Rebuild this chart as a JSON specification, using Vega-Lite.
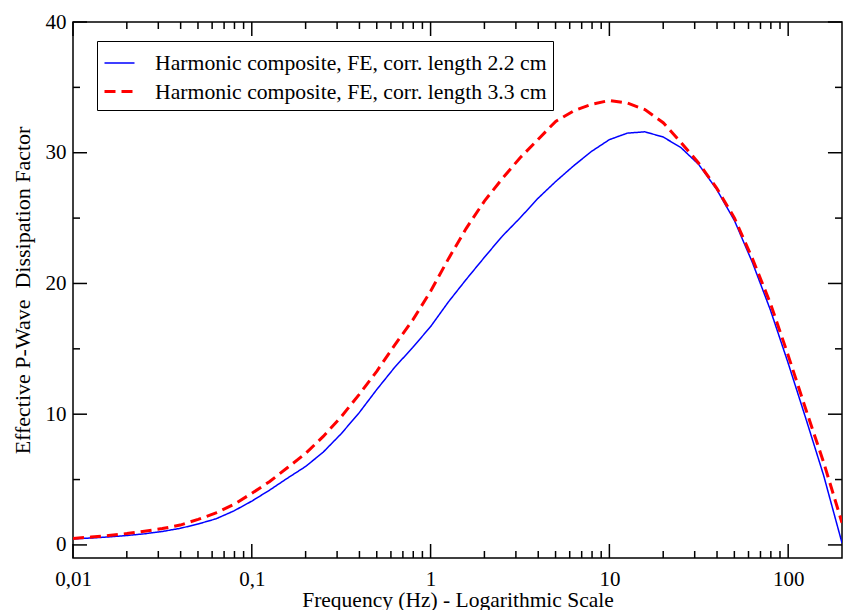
{
  "$schema": "https://vega.github.io/schema/vega-lite/v6.json",
  "width": 769,
  "height": 536,
  "autosize": {"type": "none"},
  "padding": {"left": 73, "top": 22, "right": 5, "bottom": 52},
  "background": "white",
  "data": {
    "values": [
      {"f": 0.01, "a": 0.46, "b": 0.5},
      {"f": 0.0126, "a": 0.53, "b": 0.6},
      {"f": 0.0158, "a": 0.61, "b": 0.72},
      {"f": 0.02, "a": 0.72, "b": 0.87},
      {"f": 0.0251, "a": 0.85, "b": 1.05},
      {"f": 0.0316, "a": 1.03, "b": 1.25},
      {"f": 0.0398, "a": 1.27, "b": 1.52},
      {"f": 0.0501, "a": 1.6, "b": 1.95},
      {"f": 0.0631, "a": 2.0, "b": 2.45},
      {"f": 0.0794, "a": 2.6, "b": 3.1},
      {"f": 0.1, "a": 3.35, "b": 3.95},
      {"f": 0.126, "a": 4.2, "b": 4.85},
      {"f": 0.158, "a": 5.1, "b": 5.9},
      {"f": 0.2, "a": 6.0, "b": 7.0},
      {"f": 0.251, "a": 7.1, "b": 8.3},
      {"f": 0.316, "a": 8.5, "b": 9.8},
      {"f": 0.398, "a": 10.1, "b": 11.5},
      {"f": 0.501, "a": 11.9, "b": 13.3},
      {"f": 0.631, "a": 13.6, "b": 15.3},
      {"f": 0.794, "a": 15.1, "b": 17.2},
      {"f": 1, "a": 16.7, "b": 19.4},
      {"f": 1.26, "a": 18.6, "b": 21.9},
      {"f": 1.58, "a": 20.3, "b": 24.2},
      {"f": 2, "a": 22.0, "b": 26.3},
      {"f": 2.51, "a": 23.6, "b": 28.0},
      {"f": 3.16, "a": 25.0, "b": 29.6},
      {"f": 3.98, "a": 26.5, "b": 31.0},
      {"f": 5.01, "a": 27.8, "b": 32.4},
      {"f": 6.31, "a": 29.0, "b": 33.2},
      {"f": 7.94, "a": 30.1, "b": 33.7},
      {"f": 10, "a": 31.0, "b": 34.0},
      {"f": 12.6, "a": 31.5, "b": 33.8},
      {"f": 15.8, "a": 31.6, "b": 33.3},
      {"f": 20, "a": 31.2, "b": 32.3},
      {"f": 25.1, "a": 30.4, "b": 30.8},
      {"f": 31.6, "a": 29.1, "b": 29.2},
      {"f": 39.8, "a": 27.2, "b": 27.3},
      {"f": 50.1, "a": 24.8, "b": 25.0},
      {"f": 63.1, "a": 21.6, "b": 21.9},
      {"f": 79.4, "a": 18.0, "b": 18.5},
      {"f": 100, "a": 13.9, "b": 14.5},
      {"f": 126, "a": 9.6, "b": 10.3},
      {"f": 158, "a": 5.3, "b": 6.3},
      {"f": 200, "a": 0.15, "b": 1.7}
    ]
  },
  "layer": [
    {
      "transform": [{"fold": ["a", "b"], "as": ["series", "q"]}, {"filter": "datum.series == 'a'"}],
      "mark": {"type": "line", "interpolate": "linear", "clip": true},
      "encoding": {
        "x": {
          "field": "f", "type": "quantitative",
          "scale": {"type": "log", "domain": [0.01, 200], "nice": false},
          "axis": {
            "orient": "bottom",
            "ticks": false,
            "domain": false,
            "values": [0.01, 0.1, 1, 10, 100],
            "labelExpr": "replace(format(datum.value, '~g'), '.', ',')",
            "labelPadding": 10,
            "title": "Frequency (Hz) - Logarithmic Scale",
            "titleFontSize": 21.5,
            "titleY": 42,
            "titleBaseline": "middle"
          }
        },
        "y": {
          "field": "q", "type": "quantitative",
          "scale": {"domain": [-1, 40], "nice": false, "zero": false},
          "axis": {
            "orient": "left",
            "ticks": false,
            "domain": false,
            "values": [0, 10, 20, 30, 40],
            "labelPadding": 7,
            "title": "Effective P-Wave\u00a0 Dissipation Factor",
            "titleFontSize": 22,
            "titleX": -51,
            "titleY": 268,
            "titleBaseline": "middle",
            "titleAlign": "center",
            "titleAngle": -90
          }
        },
        "color": {
          "field": "series", "type": "nominal",
          "scale": {"domain": ["a", "b"], "range": ["#0000ff", "#ff0000"]},
          "legend": {"title": null, "orient": "none", "legendX": 24, "legendY": 19, "labelExpr": "datum.label == 'a' ? 'Harmonic composite, FE, corr. length 2.2 cm' : 'Harmonic composite, FE, corr. length 3.3 cm'"}
        },
        "strokeDash": {
          "field": "series", "type": "nominal",
          "scale": {"domain": ["a", "b"], "range": [[1, 0], [11, 6]]},
          "legend": {"title": null, "orient": "none", "legendX": 24, "legendY": 19, "labelExpr": "datum.label == 'a' ? 'Harmonic composite, FE, corr. length 2.2 cm' : 'Harmonic composite, FE, corr. length 3.3 cm'"}
        },
        "strokeWidth": {
          "field": "series", "type": "nominal",
          "scale": {"domain": ["a", "b"], "range": [1.5, 3]},
          "legend": {"title": null, "orient": "none", "legendX": 24, "legendY": 19, "labelExpr": "datum.label == 'a' ? 'Harmonic composite, FE, corr. length 2.2 cm' : 'Harmonic composite, FE, corr. length 3.3 cm'"}
        }
      }
    },
    {
      "transform": [{"fold": ["a", "b"], "as": ["series", "q"]}, {"filter": "datum.series == 'b'"}],
      "mark": {"type": "line", "interpolate": "linear", "clip": true, "strokeCap": "butt"},
      "encoding": {
        "x": {"field": "f", "type": "quantitative", "scale": {"type": "log", "domain": [0.01, 200], "nice": false}, "axis": null},
        "y": {"field": "q", "type": "quantitative", "scale": {"domain": [-1, 40], "nice": false, "zero": false}, "axis": null},
        "color": {
          "field": "series", "type": "nominal",
          "scale": {"domain": ["a", "b"], "range": ["#0000ff", "#ff0000"]},
          "legend": {"title": null, "orient": "none", "legendX": 24, "legendY": 19, "labelExpr": "datum.label == 'a' ? 'Harmonic composite, FE, corr. length 2.2 cm' : 'Harmonic composite, FE, corr. length 3.3 cm'"}
        },
        "strokeDash": {
          "field": "series", "type": "nominal",
          "scale": {"domain": ["a", "b"], "range": [[1, 0], [11, 6]]},
          "legend": {"title": null, "orient": "none", "legendX": 24, "legendY": 19, "labelExpr": "datum.label == 'a' ? 'Harmonic composite, FE, corr. length 2.2 cm' : 'Harmonic composite, FE, corr. length 3.3 cm'"}
        },
        "strokeWidth": {
          "field": "series", "type": "nominal",
          "scale": {"domain": ["a", "b"], "range": [1.5, 3]},
          "legend": {"title": null, "orient": "none", "legendX": 24, "legendY": 19, "labelExpr": "datum.label == 'a' ? 'Harmonic composite, FE, corr. length 2.2 cm' : 'Harmonic composite, FE, corr. length 3.3 cm'"}
        }
      }
    },
    {
      "data": {"values": [{"t": 0.01}, {"t": 0.1}, {"t": 1}, {"t": 10}, {"t": 100}]},
      "mark": {"type": "rule", "color": "black", "strokeWidth": 1.5},
      "encoding": {
        "x": {"field": "t", "type": "quantitative", "scale": {"type": "log", "domain": [0.01, 200], "nice": false}, "axis": null},
        "y": {"datum": -1, "type": "quantitative", "scale": {"domain": [-1, 40], "nice": false, "zero": false}, "axis": null},
        "y2": {"datum": 0.07}
      }
    },
    {
      "data": {"values": [{"t": 0.01}, {"t": 0.1}, {"t": 1}, {"t": 10}, {"t": 100}]},
      "mark": {"type": "rule", "color": "black", "strokeWidth": 1.5},
      "encoding": {
        "x": {"field": "t", "type": "quantitative", "scale": {"type": "log", "domain": [0.01, 200], "nice": false}, "axis": null},
        "y": {"datum": 40, "type": "quantitative", "scale": {"domain": [-1, 40], "nice": false, "zero": false}, "axis": null},
        "y2": {"datum": 38.93}
      }
    },
    {
      "data": {"values": [{"t": 0.02}, {"t": 0.03}, {"t": 0.04}, {"t": 0.05}, {"t": 0.06}, {"t": 0.07}, {"t": 0.08}, {"t": 0.09}, {"t": 0.2}, {"t": 0.3}, {"t": 0.4}, {"t": 0.5}, {"t": 0.6}, {"t": 0.7}, {"t": 0.8}, {"t": 0.9}, {"t": 2}, {"t": 3}, {"t": 4}, {"t": 5}, {"t": 6}, {"t": 7}, {"t": 8}, {"t": 9}, {"t": 20}, {"t": 30}, {"t": 40}, {"t": 50}, {"t": 60}, {"t": 70}, {"t": 80}, {"t": 90}]},
      "mark": {"type": "rule", "color": "black", "strokeWidth": 1.5},
      "encoding": {
        "x": {"field": "t", "type": "quantitative", "scale": {"type": "log", "domain": [0.01, 200], "nice": false}, "axis": null},
        "y": {"datum": -1, "type": "quantitative", "scale": {"domain": [-1, 40], "nice": false, "zero": false}, "axis": null},
        "y2": {"datum": -0.465}
      }
    },
    {
      "data": {"values": [{"t": 0.02}, {"t": 0.03}, {"t": 0.04}, {"t": 0.05}, {"t": 0.06}, {"t": 0.07}, {"t": 0.08}, {"t": 0.09}, {"t": 0.2}, {"t": 0.3}, {"t": 0.4}, {"t": 0.5}, {"t": 0.6}, {"t": 0.7}, {"t": 0.8}, {"t": 0.9}, {"t": 2}, {"t": 3}, {"t": 4}, {"t": 5}, {"t": 6}, {"t": 7}, {"t": 8}, {"t": 9}, {"t": 20}, {"t": 30}, {"t": 40}, {"t": 50}, {"t": 60}, {"t": 70}, {"t": 80}, {"t": 90}]},
      "mark": {"type": "rule", "color": "black", "strokeWidth": 1.5},
      "encoding": {
        "x": {"field": "t", "type": "quantitative", "scale": {"type": "log", "domain": [0.01, 200], "nice": false}, "axis": null},
        "y": {"datum": 40, "type": "quantitative", "scale": {"domain": [-1, 40], "nice": false, "zero": false}, "axis": null},
        "y2": {"datum": 39.465}
      }
    },
    {
      "data": {"values": [{"t": 0}, {"t": 10}, {"t": 20}, {"t": 30}, {"t": 40}]},
      "mark": {"type": "rule", "color": "black", "strokeWidth": 1.5},
      "encoding": {
        "y": {"field": "t", "type": "quantitative", "scale": {"domain": [-1, 40], "nice": false, "zero": false}, "axis": null},
        "x": {"datum": 0.01, "type": "quantitative", "scale": {"type": "log", "domain": [0.01, 200], "nice": false}, "axis": null},
        "x2": {"datum": 0.01198}
      }
    },
    {
      "data": {"values": [{"t": 0}, {"t": 10}, {"t": 20}, {"t": 30}, {"t": 40}]},
      "mark": {"type": "rule", "color": "black", "strokeWidth": 1.5},
      "encoding": {
        "y": {"field": "t", "type": "quantitative", "scale": {"domain": [-1, 40], "nice": false, "zero": false}, "axis": null},
        "x": {"datum": 200, "type": "quantitative", "scale": {"type": "log", "domain": [0.01, 200], "nice": false}, "axis": null},
        "x2": {"datum": 166.9}
      }
    },
    {
      "data": {"values": [{"t": 5}, {"t": 15}, {"t": 25}, {"t": 35}]},
      "mark": {"type": "rule", "color": "black", "strokeWidth": 1.5},
      "encoding": {
        "y": {"field": "t", "type": "quantitative", "scale": {"domain": [-1, 40], "nice": false, "zero": false}, "axis": null},
        "x": {"datum": 0.01, "type": "quantitative", "scale": {"type": "log", "domain": [0.01, 200], "nice": false}, "axis": null},
        "x2": {"datum": 0.010945}
      }
    },
    {
      "data": {"values": [{"t": 5}, {"t": 15}, {"t": 25}, {"t": 35}]},
      "mark": {"type": "rule", "color": "black", "strokeWidth": 1.5},
      "encoding": {
        "y": {"field": "t", "type": "quantitative", "scale": {"domain": [-1, 40], "nice": false, "zero": false}, "axis": null},
        "x": {"datum": 200, "type": "quantitative", "scale": {"type": "log", "domain": [0.01, 200], "nice": false}, "axis": null},
        "x2": {"datum": 182.7}
      }
    }
  ],
  "resolve": {"axis": {"x": "independent", "y": "independent"}},
  "config": {
    "view": {"stroke": "black", "strokeWidth": 1.5},
    "axis": {
      "grid": false,
      "labelFlush": false,
      "labelOverlap": false,
      "labelFont": "Liberation Serif",
      "labelFontSize": 21,
      "labelColor": "black",
      "titleFont": "Liberation Serif",
      "titleFontSize": 21,
      "titleFontWeight": "normal",
      "titleColor": "black"
    },
    "legend": {
      "symbolType": "stroke",
      "symbolSize": 900,
      "labelFont": "Liberation Serif",
      "labelFontSize": 21.7,
      "labelColor": "black",
      "labelOffset": 19,
      "labelLimit": 0,
      "strokeColor": "black",
      "fillColor": "white",
      "padding": 6,
      "rowPadding": -5,
      "symbolOpacity": 1
    }
  }
}
